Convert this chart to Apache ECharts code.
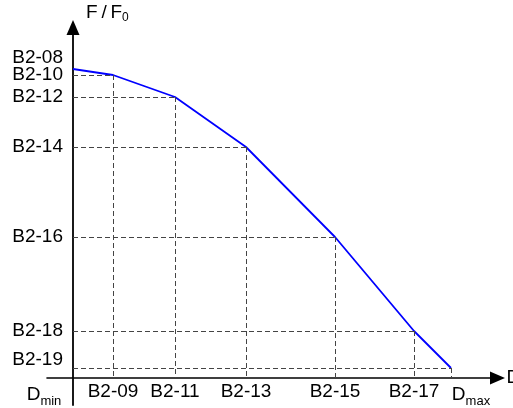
<!DOCTYPE html>
<html><head><meta charset="utf-8">
<script src="https://cdn.jsdelivr.net/npm/echarts@6/dist/echarts.min.js"></script>
<style>html,body{margin:0;padding:0;background:#fff}#chart{width:513px;height:408px}</style>
</head><body><div id="chart"></div>
<script>
// Curve points (arbitrary units; origin = Dmin / axis crossing)
const xValues = [0, 40, 102, 173, 262, 341, 378];
const yValues = [309, 303, 281, 231, 141, 47, 10];
// Tick labels
const xTickLabels = ['D_min', 'B2-09', 'B2-11', 'B2-13', 'B2-15', 'B2-17', 'D_max'];
const xTickValues = [0, 40, 102, 173, 262, 341, 378];
const yTickLabels = ['B2-08', 'B2-10', 'B2-12', 'B2-14', 'B2-16', 'B2-18', 'B2-19'];
const yTickValues = [320, 303, 281, 231, 141, 47, 10];
const xName = 'D';
const yNameMain = 'F\u2009/\u2009F';
const yNameSub = '0';

const FONT = "'Liberation Sans', Arial, sans-serif";
const FS = 19;
const X_MAX = 424.5, Y_MAX = 350.5;
const curve = xValues.map((x, i) => [x, yValues[i]]);
const guides = [];
curve.slice(1).forEach(p => {
  guides.push([{ coord: [0, p[1]] }, { coord: [p[0], p[1]] }]);
  guides.push([{ coord: [p[0], p[1]] }, { coord: [p[0], 0] }]);
});

// label groups (split so that close neighbours are not auto-hidden)
const xEndIdx = [0, xTickValues.length - 1];
const xMidIdx = xTickValues.map((v, i) => i).filter(i => xEndIdx.indexOf(i) < 0);
const yTopIdx = [0];
const yRestIdx = yTickValues.map((v, i) => i).filter(i => i !== 0);

function xFmt(v) {
  const i = xTickValues.indexOf(v);
  const t = i >= 0 ? xTickLabels[i] : '';
  if (t.indexOf('_') > 0) {
    const parts = t.split('_');
    return i === 0 ? '{d|' + parts[0] + '}{sR|' + parts[1] + '}' : '{dL|' + parts[0] + '}{s|' + parts[1] + '}';
  }
  return t;
}
function yFmt(v) {
  const i = yTickValues.indexOf(v);
  const t = i >= 0 ? yTickLabels[i] : '';
  if (i === yTickValues.length - 1) return '{up|' + t + '}';
  return t;
}
const noLine = { axisLine: { show: false }, axisTick: { show: false }, splitLine: { show: false } };
function xLabelAxis(idx) {
  return Object.assign({
    gridIndex: 1, type: 'value', min: 0, max: X_MAX, position: 'bottom',
    axisLabel: {
      customValues: idx.map(i => xTickValues[i]),
      hideOverlap: false, margin: 4,
      fontFamily: FONT, fontSize: FS, color: '#000',
      formatter: xFmt,
      rich: {
        d: { fontFamily: FONT, fontSize: FS, lineHeight: 26, color: '#000' },
        dL: { fontFamily: FONT, fontSize: FS, lineHeight: 26, color: '#000', padding: [0, 0, 0, 40] },
        s: { fontFamily: FONT, fontSize: 13, lineHeight: 14, verticalAlign: 'bottom', color: '#000' },
        sR: { fontFamily: FONT, fontSize: 13, lineHeight: 14, verticalAlign: 'bottom', color: '#000', padding: [0, 58, 0, 0] }
      }
    }
  }, noLine);
}
function yLabelAxis(idx) {
  return Object.assign({
    gridIndex: 1, type: 'value', min: 0, max: Y_MAX, position: 'left',
    axisLabel: {
      customValues: idx.map(i => yTickValues[i]),
      hideOverlap: false, margin: 10,
      fontFamily: FONT, fontSize: FS, color: '#000',
      formatter: yFmt,
      rich: {
        up: { fontFamily: FONT, fontSize: FS, color: '#000', padding: [0, 0, 16, 0] }
      }
    }
  }, noLine);
}

const chart = echarts.init(document.getElementById('chart'), null, { renderer: 'canvas' });
chart.setOption({
  animation: false,
  backgroundColor: '#fff',
  textStyle: { fontFamily: FONT },
  title: {
    text: '{a|' + yNameMain + '}{s|' + yNameSub + '}',
    left: 86, top: 2, padding: 0,
    textStyle: {
      fontWeight: 'normal',
      rich: {
        a: { fontFamily: FONT, fontSize: 19, fontWeight: 'normal', lineHeight: 22, color: '#000' },
        s: { fontFamily: FONT, fontSize: 12, fontWeight: 'normal', lineHeight: 12, verticalAlign: 'bottom', color: '#000' }
      }
    }
  },
  grid: [
    { left: 47, right: 15.5, top: 27.5, bottom: 3, outerBoundsMode: 'none' },
    { left: 73, right: 15.5, top: 27.5, bottom: 30, outerBoundsMode: 'none' }
  ],
  xAxis: [
    {
      gridIndex: 0, type: 'value', min: -26, max: X_MAX,
      name: xName, nameLocation: 'end', nameGap: 9,
      nameTextStyle: { fontFamily: FONT, fontSize: FS, color: '#000', align: 'left', verticalAlign: 'middle' },
      axisLine: { onZero: true, symbol: ['none', 'triangle'], symbolSize: [13, 15],
        lineStyle: { color: '#000', width: 1.6 } },
      axisTick: { show: false }, splitLine: { show: false }, axisLabel: { show: false }
    },
    xLabelAxis(xMidIdx),
    xLabelAxis(xEndIdx)
  ],
  yAxis: [
    {
      gridIndex: 0, type: 'value', min: -27, max: Y_MAX,
      axisLine: { onZero: true, symbol: ['none', 'triangle'], symbolSize: [13, 15],
        lineStyle: { color: '#000', width: 1.8 } },
      axisTick: { show: false }, splitLine: { show: false }, axisLabel: { show: false }
    },
    yLabelAxis(yRestIdx),
    yLabelAxis(yTopIdx)
  ],
  series: [
    {
      type: 'line', xAxisIndex: 0, yAxisIndex: 0, data: [], z: 1, silent: true,
      markLine: {
        silent: true, symbol: 'none', animation: false,
        label: { show: false },
        lineStyle: { color: '#444', width: 1, type: [5, 3] },
        emphasis: { disabled: true },
        data: guides
      }
    },
    {
      type: 'line', xAxisIndex: 0, yAxisIndex: 0, data: curve, z: 3, symbol: 'none', silent: true,
      lineStyle: { color: '#0000ff', width: 1.8 }
    }
  ]
});
</script></body></html>
